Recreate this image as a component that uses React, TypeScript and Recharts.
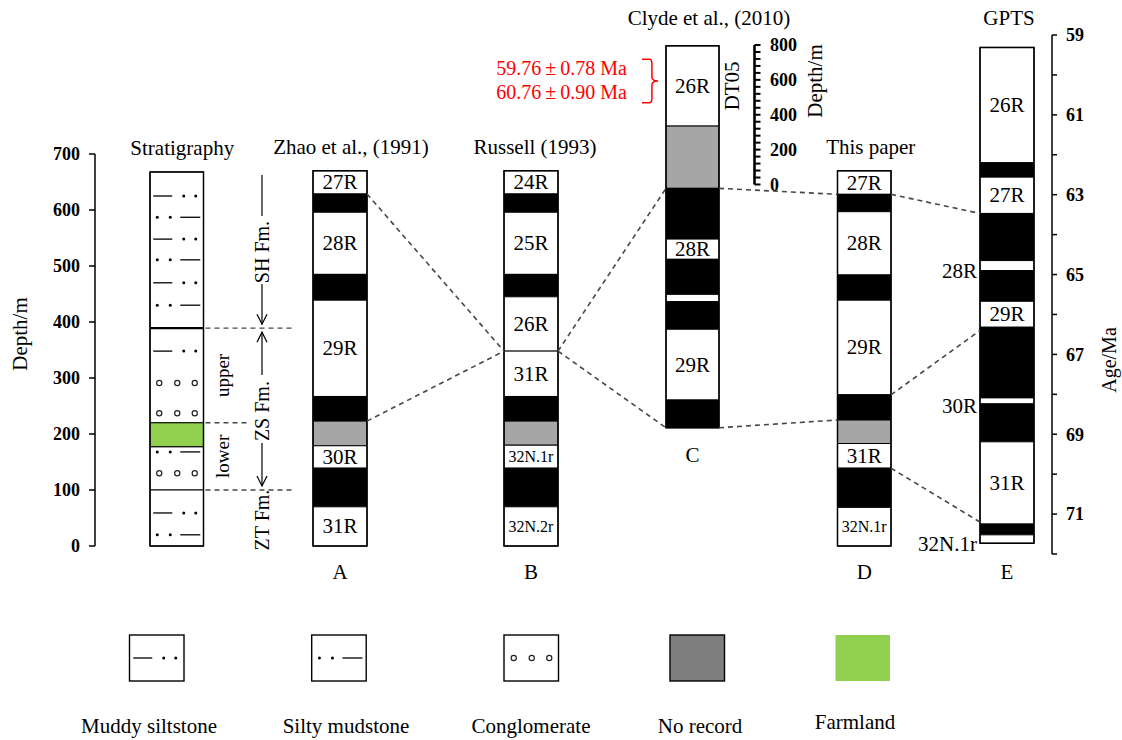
import React from 'react';
import {
  ComposedChart,
  XAxis,
  YAxis,
  ReferenceArea,
  ReferenceLine,
  Line,
  Scatter,
  Legend,
} from 'recharts';

// ------------------------------------------------------------------ data
const DEPTH_TICKS = [0, 100, 200, 300, 400, 500, 600, 700];
const AGE_TICKS = [59, 60, 61, 62, 63, 64, 65, 66, 67, 68, 69, 70, 71, 72];
const CSCALE_TICKS = [0, 40, 80, 120, 160, 200, 240, 280, 320, 360, 400, 440, 480, 520, 560, 600, 640, 680, 720, 760, 800];
const CSCALE_LABELS = [0, 200, 400, 600, 800];

// Stratigraphy column (depth, m)
const STRAT_LAYERS = [
  { top: 668, base: 389, lith: 'clastic' },
  { top: 389, base: 220, lith: 'clastic' },
  { top: 220, base: 177, lith: 'farmland' },
  { top: 177, base: 100, lith: 'clastic' },
  { top: 100, base: 0, lith: 'clastic' },
];
const STRAT_SYMBOLS = [
  { depth: 625, kind: 'muddy' },
  { depth: 587, kind: 'silty' },
  { depth: 548, kind: 'muddy' },
  { depth: 511, kind: 'silty' },
  { depth: 470, kind: 'muddy' },
  { depth: 430, kind: 'silty' },
  { depth: 348, kind: 'muddy' },
  { depth: 291, kind: 'cong' },
  { depth: 237, kind: 'cong' },
  { depth: 168, kind: 'silty' },
  { depth: 130, kind: 'cong' },
  { depth: 59, kind: 'muddy' },
  { depth: 20, kind: 'silty' },
];
const FORMATIONS = [
  { name: 'SH Fm.', top: 668, base: 389, line: true, arrowTop: false, arrowBottom: true },
  { name: 'ZS Fm.', top: 389, base: 100, line: true, arrowTop: true, arrowBottom: true },
  { name: 'ZT Fm.', top: 100, base: 0, line: false, arrowTop: false, arrowBottom: false },
];
const MEMBERS = [
  { name: 'upper', top: 389, base: 220 },
  { name: 'lower', top: 220, base: 100 },
];
const STRAT_BOUNDARIES = [
  { depth: 389, reach: 'long', thick: true },
  { depth: 220, reach: 'short', thick: false },
  { depth: 100, reach: 'long', thick: false },
];

// Polarity columns: R = reversed (white), N = normal (black), X = no record (grey)
const ZHAO_1991 = [
  { top: 670, base: 628.6, pol: 'R', label: '27R' },
  { top: 628.6, base: 596, pol: 'N' },
  { top: 596, base: 485, pol: 'R', label: '28R' },
  { top: 485, base: 439, pol: 'N' },
  { top: 439, base: 267, pol: 'R', label: '29R' },
  { top: 267, base: 223, pol: 'N' },
  { top: 223, base: 179, pol: 'X' },
  { top: 179, base: 139, pol: 'R', label: '30R' },
  { top: 139, base: 70, pol: 'N' },
  { top: 70, base: 0, pol: 'R', label: '31R' },
];
const RUSSELL_1993 = [
  { top: 670, base: 628.6, pol: 'R', label: '24R' },
  { top: 628.6, base: 596, pol: 'N' },
  { top: 596, base: 485, pol: 'R', label: '25R' },
  { top: 485, base: 445, pol: 'N' },
  { top: 445, base: 348, pol: 'R', label: '26R' },
  { top: 348, base: 267, pol: 'R', label: '31R' },
  { top: 267, base: 223, pol: 'N' },
  { top: 223, base: 180, pol: 'X' },
  { top: 180, base: 139, pol: 'R', label: '32N.1r' },
  { top: 139, base: 70, pol: 'N' },
  { top: 70, base: 0, pol: 'R', label: '32N.2r' },
];
// Clyde et al. (2010), section DT05, in metres of its own scale bar
const CLYDE_2010 = [
  { top: 795, base: 335, pol: 'R', label: '26R' },
  { top: 335, base: -22, pol: 'X' },
  { top: -22, base: -313, pol: 'N' },
  { top: -313, base: -429, pol: 'R', label: '28R' },
  { top: -429, base: -630, pol: 'N' },
  { top: -630, base: -672, pol: 'R' },
  { top: -672, base: -830, pol: 'N' },
  { top: -830, base: -1236, pol: 'R', label: '29R' },
  { top: -1236, base: -1395, pol: 'N' },
];
const THIS_PAPER = [
  { top: 670, base: 628, pol: 'R', label: '27R' },
  { top: 628, base: 597, pol: 'N' },
  { top: 597, base: 484, pol: 'R', label: '28R' },
  { top: 484, base: 439, pol: 'N' },
  { top: 439, base: 270, pol: 'R', label: '29R' },
  { top: 270, base: 225, pol: 'N' },
  { top: 225, base: 183, pol: 'X' },
  { top: 183, base: 139, pol: 'R', label: '31R' },
  { top: 139, base: 69, pol: 'N' },
  { top: 69, base: 0, pol: 'R', label: '32N.1r' },
];
// GPTS (age, Ma)
const GPTS = [
  { top: 59.31, base: 62.2, pol: 'R', label: '26R' },
  { top: 62.2, base: 62.56, pol: 'N' },
  { top: 62.56, base: 63.47, pol: 'R', label: '27R' },
  { top: 63.47, base: 64.65, pol: 'N' },
  { top: 64.65, base: 64.9, pol: 'R', label: '28R', side: 'left' },
  { top: 64.9, base: 65.67, pol: 'N' },
  { top: 65.67, base: 66.32, pol: 'R', label: '29R' },
  { top: 66.32, base: 68.09, pol: 'N' },
  { top: 68.09, base: 68.24, pol: 'R', label: '30R', side: 'left' },
  { top: 68.24, base: 69.19, pol: 'N' },
  { top: 69.19, base: 71.25, pol: 'R', label: '31R' },
  { top: 71.25, base: 71.52, pol: 'N' },
  { top: 71.52, base: 71.73, pol: 'R', label: '32N.1r', side: 'left' },
];

const CORRELATIONS = [
  { from: 'A', fromValue: 628.6, to: 'B', toValue: 348 },
  { from: 'A', fromValue: 223, to: 'B', toValue: 348 },
  { from: 'B', fromValue: 348, to: 'C', toValue: -22 },
  { from: 'B', fromValue: 348, to: 'C', toValue: -1395 },
  { from: 'C', fromValue: -22, to: 'D', toValue: 628 },
  { from: 'C', fromValue: -1395, to: 'D', toValue: 225 },
  { from: 'D', fromValue: 628, to: 'E', toValue: 63.47 },
  { from: 'D', fromValue: 270, to: 'E', toValue: 66.4 },
  { from: 'D', fromValue: 139, to: 'E', toValue: 71.2 },
];

const DATES = ['59.76\u2009\u00B1\u20090.78 Ma', '60.76\u2009\u00B1\u20090.90 Ma'];
const DATE_BRACKET = { top: 718, base: 469 }; // on the DT05 scale

const LEGEND_ITEMS = [
  { label: 'Muddy siltstone', kind: 'muddy' },
  { label: 'Silty mudstone', kind: 'silty' },
  { label: 'Conglomerate', kind: 'cong' },
  { label: 'No record', kind: 'none' },
  { label: 'Farmland', kind: 'farmland' },
];

// ------------------------------------------------------------------ styles & layout
const FONT = '"Liberation Serif", "Times New Roman", Times, serif';
const INK = '#000000';
const DASH = '#474747';
const NO_RECORD_FILL = '#a6a6a6';
const NO_RECORD_LEGEND = '#7f7f7f';
const FARMLAND = '#92d050';
const RED = '#ff0000';

const W = 1122;
const H = 740;
const PLOT = { left: 95, right: 1052, top: 35, bottom: 554 };

const DEPTH_AXIS = { id: 'depth', v1: 0, p1: 546, v2: 700, p2: 154 };
const AGE_AXIS = { id: 'age', v1: 59, p1: 35, v2: 72, p2: 554 };
const CSCALE_AXIS = { id: 'cscale', v1: 0, p1: 184.5, v2: 800, p2: 45 };

const valueAt = (a, p) => a.v1 + ((p - a.p1) * (a.v2 - a.v1)) / (a.p2 - a.p1);
const pixelOf = (a, v) => a.p1 + ((v - a.v1) * (a.p2 - a.p1)) / (a.v2 - a.v1);
const domainOf = (a) => {
  const lo = valueAt(a, PLOT.bottom);
  const hi = valueAt(a, PLOT.top);
  return [Math.min(lo, hi), Math.max(lo, hi)];
};
const isReversed = (a) => (a.p2 - a.p1) / (a.v2 - a.v1) > 0;

const LAYOUT = {
  S: { x1: 150, x2: 203.5, titleDx: 5.5, titleGap: 24 },
  A: { x1: 313, x2: 367, titleDx: 11, titleGap: 24, letterGap: 26 },
  B: { x1: 504, x2: 558, titleDx: 4, titleGap: 24, letterGap: 26 },
  C: { x1: 666, x2: 719, titleDx: 16.5, titleGap: 28, letterGap: 27 },
  D: { x1: 837.5, x2: 891, titleDx: 6.5, titleGap: 24, letterGap: 26 },
  E: { x1: 980, x2: 1034, titleDx: 2, titleGap: 29, letterGap: 29 },
};
const FORMATION_X = 262;
const MEMBER_X = 223;
const BOUNDARY_REACH = { long: 292, short: 247 };
const CSCALE_X = 754.5;
const LEGEND_TOP = 625;
const LEGEND_BOX_X = [129.5, 311.7, 504, 670, 835.5];
const LEGEND_LABEL_X = [149, 346, 531, 700, 855];

const COLUMNS = [
  { id: 'A', title: 'Zhao et al., (1991)', letter: 'A', axis: DEPTH_AXIS, data: ZHAO_1991 },
  { id: 'B', title: 'Russell (1993)', letter: 'B', axis: DEPTH_AXIS, data: RUSSELL_1993 },
  { id: 'C', title: 'Clyde et al., (2010)', letter: 'C', axis: CSCALE_AXIS, data: CLYDE_2010, note: 'DT05' },
  { id: 'D', title: 'This paper', letter: 'D', axis: DEPTH_AXIS, data: THIS_PAPER },
  { id: 'E', title: 'GPTS', letter: 'E', axis: AGE_AXIS, data: GPTS },
];
const AXIS_OF = { A: DEPTH_AXIS, B: DEPTH_AXIS, C: CSCALE_AXIS, D: DEPTH_AXIS, E: AGE_AXIS };

const polFill = (pol) => (pol === 'N' ? INK : pol === 'X' ? NO_RECORD_FILL : '#ffffff');

const txt = { fontFamily: FONT, fill: INK };

// ------------------------------------------------------------------ drawing helpers
const lithSymbol = (kind, cx, cy, key) => {
  if (kind === 'muddy') {
    return (
      <g key={key}>
        <line x1={cx - 23.5} x2={cx - 4.5} y1={cy} y2={cy} stroke={INK} strokeWidth={1.3} />
        <circle cx={cx + 7} cy={cy} r={1.5} fill={INK} />
        <circle cx={cx + 19} cy={cy} r={1.5} fill={INK} />
      </g>
    );
  }
  if (kind === 'silty') {
    return (
      <g key={key}>
        <circle cx={cx - 19.5} cy={cy} r={1.5} fill={INK} />
        <circle cx={cx - 6.5} cy={cy} r={1.5} fill={INK} />
        <line x1={cx + 3.5} x2={cx + 23.5} y1={cy} y2={cy} stroke={INK} strokeWidth={1.3} />
      </g>
    );
  }
  if (kind === 'cong') {
    return (
      <g key={key}>
        {[-17.5, 0.5, 18].map((dx) => (
          <circle key={dx} cx={cx + dx} cy={cy} r={2.6} fill="none" stroke="#222" strokeWidth={1.2} />
        ))}
      </g>
    );
  }
  return null;
};

const SymbolShape = (props) => {
  const kind = (props.payload && props.payload.kind) || props.kind;
  return lithSymbol(kind, props.cx, props.cy);
};

const rotatedText = (x, y, text, size, key) => (
  <text
    key={key}
    x={x}
    y={y}
    transform={`rotate(-90 ${x} ${y})`}
    textAnchor="middle"
    dominantBaseline="central"
    fontSize={size}
    {...txt}
  >
    {text}
  </text>
);

const intervalLabel = (iv) => (props) => {
  const vb = props.viewBox;
  if (!iv.label || !vb) return null;
  const cy = vb.y + vb.height / 2;
  if (iv.side === 'left') {
    return (
      <text x={vb.x - 3} y={cy + 5} textAnchor="end" dominantBaseline="central" fontSize={21} {...txt}>
        {iv.label}
      </text>
    );
  }
  const small = iv.label.length > 3;
  return (
    <text
      x={vb.x + vb.width / 2}
      y={cy}
      textAnchor="middle"
      dominantBaseline="central"
      fontSize={small ? 16 : 21}
      {...txt}
    >
      {iv.label}
    </text>
  );
};

const columnFrameLabel = (col, lay) => (props) => {
  const vb = props.viewBox;
  if (!vb) return null;
  const cx = vb.x + vb.width / 2;
  return (
    <g>
      <text x={cx + lay.titleDx} y={vb.y - lay.titleGap} textAnchor="middle" dominantBaseline="central" fontSize={21} {...txt}>
        {col.title}
      </text>
      {col.letter ? (
        <text x={cx} y={vb.y + vb.height + lay.letterGap} textAnchor="middle" dominantBaseline="central" fontSize={21} {...txt}>
          {col.letter}
        </text>
      ) : null}
      {col.note ? rotatedText(vb.x + vb.width + 13, vb.y + 40, col.note, 21) : null}
    </g>
  );
};

const formationShape = (f) => (props) => {
  const { x, y, width, height } = props;
  const cx = x + width / 2;
  const top = y;
  const bot = y + height;
  const mid = (top + bot) / 2;
  const half = 34;
  const arrow = (tipY, dir) => (
    <polyline
      points={`${cx - 5},${tipY - dir * 10} ${cx},${tipY} ${cx + 5},${tipY - dir * 10}`}
      fill="none"
      stroke={INK}
      strokeWidth={1.2}
    />
  );
  return (
    <g>
      {f.line ? (
        <g>
          <line x1={cx} x2={cx} y1={f.arrowTop ? top + 4 : top + 3} y2={mid - half} stroke={INK} strokeWidth={1.2} />
          <line x1={cx} x2={cx} y1={mid + half} y2={f.arrowBottom ? bot - 4 : bot} stroke={INK} strokeWidth={1.2} />
          {f.arrowTop ? arrow(top + 4, -1) : null}
          {f.arrowBottom ? arrow(bot - 4, 1) : null}
        </g>
      ) : null}
      {rotatedText(cx, mid + 2, f.name, 20)}
    </g>
  );
};

const bracketShape = (props) => {
  const { x, y, width, height } = props;
  const t = y;
  const b = y + height;
  const m = (t + b) / 2;
  const xs = x + width * 0.62;
  const d = `M ${x} ${t} L ${x + width * 0.45} ${t} Q ${xs} ${t} ${xs} ${t + 4} L ${xs} ${m - 4} Q ${xs} ${m} ${x + width} ${m} Q ${xs} ${m} ${xs} ${m + 4} L ${xs} ${b - 4} Q ${xs} ${b} ${x + width * 0.45} ${b} L ${x} ${b}`;
  return <path d={d} fill="none" stroke={RED} strokeWidth={1.5} />;
};

const datesLabel = (props) => {
  const vb = props.viewBox;
  if (!vb) return null;
  return (
    <g>
      {DATES.map((d, i) => (
        <text
          key={d}
          x={vb.x - 15}
          y={vb.y + vb.height * (i === 0 ? 0.2 : 0.745)}
          textAnchor="end"
          dominantBaseline="central"
          fontSize={20}
          fontFamily={FONT}
          fill={RED}
        >
          {d}
        </text>
      ))}
    </g>
  );
};

const renderLegend = () => (
  <svg width={W} height={115} style={{ display: 'block' }}>
    {LEGEND_ITEMS.map((item, i) => {
      const bx = LEGEND_BOX_X[i];
      const bw = 54.5;
      const by = 10;
      const bh = 46;
      const fill = item.kind === 'none' ? NO_RECORD_LEGEND : item.kind === 'farmland' ? FARMLAND : '#ffffff';
      return (
        <g key={item.label}>
          <rect
            x={bx}
            y={by}
            width={bw}
            height={bh}
            fill={fill}
            stroke={item.kind === 'farmland' ? 'none' : INK}
            strokeWidth={1.4}
          />
          {lithSymbol(item.kind, bx + bw / 2, by + bh / 2)}
          <text
            x={LEGEND_LABEL_X[i]}
            y={item.kind === 'farmland' ? 97 : 101}
            textAnchor="middle"
            dominantBaseline="central"
            fontSize={21}
            {...txt}
          >
            {item.label}
          </text>
        </g>
      );
    })}
  </svg>
);

const depthAxisTitle = () => rotatedText(20, 334, 'Depth/m', 21);
const ageAxisTitle = () => rotatedText(1109, 360, 'Age/Ma', 20);

// ------------------------------------------------------------------ component
export default function App() {
  const S = LAYOUT.S;
  const stratCx = (S.x1 + S.x2) / 2;

  const toDepth = (colId, v) => valueAt(DEPTH_AXIS, pixelOf(AXIS_OF[colId], v));

  return (
    <div style={{ position: 'absolute', left: 0, top: 0, width: W, height: H, background: '#fff' }}>
      <ComposedChart width={W} height={H} margin={{ top: PLOT.top, right: 0, bottom: H - PLOT.bottom, left: 0 }}>
        <XAxis type="number" dataKey="x" domain={[PLOT.left, PLOT.right]} allowDataOverflow hide />
        <YAxis
          yAxisId="depth"
          orientation="left"
          type="number"
          width={PLOT.left}
          domain={domainOf(DEPTH_AXIS)}
          allowDataOverflow
          ticks={DEPTH_TICKS}
          interval={0}
          axisLine={false}
          tickLine={{ stroke: INK, strokeWidth: 1.5 }}
          tickSize={6}
          tickMargin={9}
          tick={{ fontSize: 18, fontWeight: 'bold', fill: INK, fontFamily: FONT }}
          label={depthAxisTitle}
        />
        <YAxis
          yAxisId="age"
          orientation="right"
          type="number"
          width={W - PLOT.right}
          domain={domainOf(AGE_AXIS)}
          reversed={isReversed(AGE_AXIS)}
          allowDataOverflow
          ticks={AGE_TICKS}
          interval={0}
          tickFormatter={(v) => (v % 2 === 1 ? String(v) : '')}
          axisLine={{ stroke: INK, strokeWidth: 1.5 }}
          tickLine={{ stroke: INK, strokeWidth: 1.5 }}
          tickSize={5}
          tickMargin={9}
          tick={{ fontSize: 18, fontWeight: 'bold', fill: INK, fontFamily: FONT }}
          label={ageAxisTitle}
        />
        <YAxis
          yAxisId="cscale"
          orientation="right"
          type="number"
          hide
          width={0}
          domain={domainOf(CSCALE_AXIS)}
          allowDataOverflow
        />

        {/* depth axis line */}
        <ReferenceLine
          yAxisId="depth"
          segment={[
            { x: PLOT.left, y: DEPTH_TICKS[0] },
            { x: PLOT.left, y: DEPTH_TICKS[DEPTH_TICKS.length - 1] },
          ]}
          stroke={INK}
          strokeWidth={1.5}
          ifOverflow="visible"
        />

        {/* stratigraphy column */}
        {STRAT_LAYERS.map((l, i) => (
          <ReferenceArea
            key={`sl${i}`}
            yAxisId="depth"
            x1={S.x1}
            x2={S.x2}
            y1={l.base}
            y2={l.top}
            fill={l.lith === 'farmland' ? FARMLAND : '#ffffff'}
            fillOpacity={1}
            stroke={INK}
            strokeWidth={1}
            ifOverflow="visible"
          />
        ))}
        <ReferenceArea
          yAxisId="depth"
          x1={S.x1}
          x2={S.x2}
          y1={STRAT_LAYERS[STRAT_LAYERS.length - 1].base}
          y2={STRAT_LAYERS[0].top}
          fill="none"
          stroke={INK}
          strokeWidth={1.5}
          ifOverflow="visible"
          label={columnFrameLabel({ title: 'Stratigraphy' }, S)}
        />
        {STRAT_BOUNDARIES.map((b) => (
          <ReferenceLine
            key={`sb${b.depth}`}
            yAxisId="depth"
            segment={[
              { x: S.x2 + 2, y: b.depth },
              { x: BOUNDARY_REACH[b.reach], y: b.depth },
            ]}
            stroke={DASH}
            strokeWidth={1.4}
            strokeDasharray="5 4"
            ifOverflow="visible"
          />
        ))}
        {STRAT_BOUNDARIES.filter((b) => b.thick).map((b) => (
          <ReferenceLine
            key={`st${b.depth}`}
            yAxisId="depth"
            segment={[
              { x: S.x1, y: b.depth },
              { x: S.x2, y: b.depth },
            ]}
            stroke={INK}
            strokeWidth={2.4}
            ifOverflow="visible"
          />
        ))}
        <Scatter
          yAxisId="depth"
          dataKey="y"
          data={STRAT_SYMBOLS.map((s) => ({ x: stratCx, y: s.depth, kind: s.kind }))}
          shape={SymbolShape}
          isAnimationActive={false}
          legendType="none"
        />
        {FORMATIONS.map((f) => (
          <ReferenceArea
            key={f.name}
            yAxisId="depth"
            x1={FORMATION_X - 6}
            x2={FORMATION_X + 6}
            y1={f.base}
            y2={f.top}
            shape={formationShape(f)}
            ifOverflow="visible"
          />
        ))}
        {MEMBERS.map((m) => (
          <ReferenceArea
            key={m.name}
            yAxisId="depth"
            x1={MEMBER_X - 8}
            x2={MEMBER_X + 8}
            y1={m.base}
            y2={m.top}
            fill="none"
            stroke="none"
            ifOverflow="visible"
            label={(p) => (p.viewBox ? rotatedText(p.viewBox.x + p.viewBox.width / 2, p.viewBox.y + p.viewBox.height / 2, m.name, 19) : null)}
          />
        ))}

        {/* polarity columns */}
        {COLUMNS.map((col) => {
          const lay = LAYOUT[col.id];
          return [
            ...col.data.map((iv, i) => (
              <ReferenceArea
                key={`${col.id}-${i}`}
                yAxisId={col.axis.id}
                x1={lay.x1}
                x2={lay.x2}
                y1={iv.base}
                y2={iv.top}
                fill={polFill(iv.pol)}
                fillOpacity={1}
                stroke={INK}
                strokeWidth={1}
                ifOverflow="visible"
                label={intervalLabel(iv)}
              />
            )),
            <ReferenceArea
              key={`${col.id}-frame`}
              yAxisId={col.axis.id}
              x1={lay.x1}
              x2={lay.x2}
              y1={col.data[col.data.length - 1].base}
              y2={col.data[0].top}
              fill="none"
              stroke={INK}
              strokeWidth={1.5}
              ifOverflow="visible"
              label={columnFrameLabel(col, lay)}
            />,
          ];
        })}

        {/* DT05 scale bar */}
        <ReferenceLine
          yAxisId="cscale"
          segment={[
            { x: CSCALE_X, y: CSCALE_TICKS[0] },
            { x: CSCALE_X, y: CSCALE_TICKS[CSCALE_TICKS.length - 1] },
          ]}
          stroke={INK}
          strokeWidth={2.6}
          ifOverflow="visible"
          label={(p) => (p.viewBox ? rotatedText(p.viewBox.x + 60, p.viewBox.y + 36, 'Depth/m', 21) : null)}
        />
        {CSCALE_TICKS.map((t) => (
          <ReferenceLine
            key={`ct${t}`}
            yAxisId="cscale"
            segment={[
              { x: CSCALE_X, y: t },
              { x: CSCALE_X + 6, y: t },
            ]}
            stroke={INK}
            strokeWidth={2}
            ifOverflow="visible"
            label={
              CSCALE_LABELS.includes(t)
                ? (p) =>
                    p.viewBox ? (
                      <text
                        x={p.viewBox.x + 15.5}
                        y={p.viewBox.y}
                        dominantBaseline="central"
                        fontSize={18}
                        fontWeight="bold"
                        {...txt}
                      >
                        {t}
                      </text>
                    ) : null
                : undefined
            }
          />
        ))}

        {/* radiometric dates */}
        <ReferenceArea
          yAxisId="cscale"
          x1={642}
          x2={658}
          y1={DATE_BRACKET.base}
          y2={DATE_BRACKET.top}
          shape={bracketShape}
          ifOverflow="visible"
          label={datesLabel}
        />

        {/* correlation lines */}
        {CORRELATIONS.map((c, i) => (
          <Line
            key={`cor${i}`}
            yAxisId="depth"
            dataKey="y"
            type="linear"
            data={[
              { x: LAYOUT[c.from].x2, y: toDepth(c.from, c.fromValue) },
              { x: LAYOUT[c.to].x1, y: toDepth(c.to, c.toValue) },
            ]}
            stroke={DASH}
            strokeWidth={1.6}
            strokeDasharray="5 4"
            dot={false}
            activeDot={false}
            isAnimationActive={false}
            legendType="none"
          />
        ))}

        <Legend
          content={renderLegend}
          layout="horizontal"
          verticalAlign="middle"
          align="center"
          wrapperStyle={{ left: 0, top: LEGEND_TOP, width: W, height: 115 }}
        />
      </ComposedChart>
    </div>
  );
}
